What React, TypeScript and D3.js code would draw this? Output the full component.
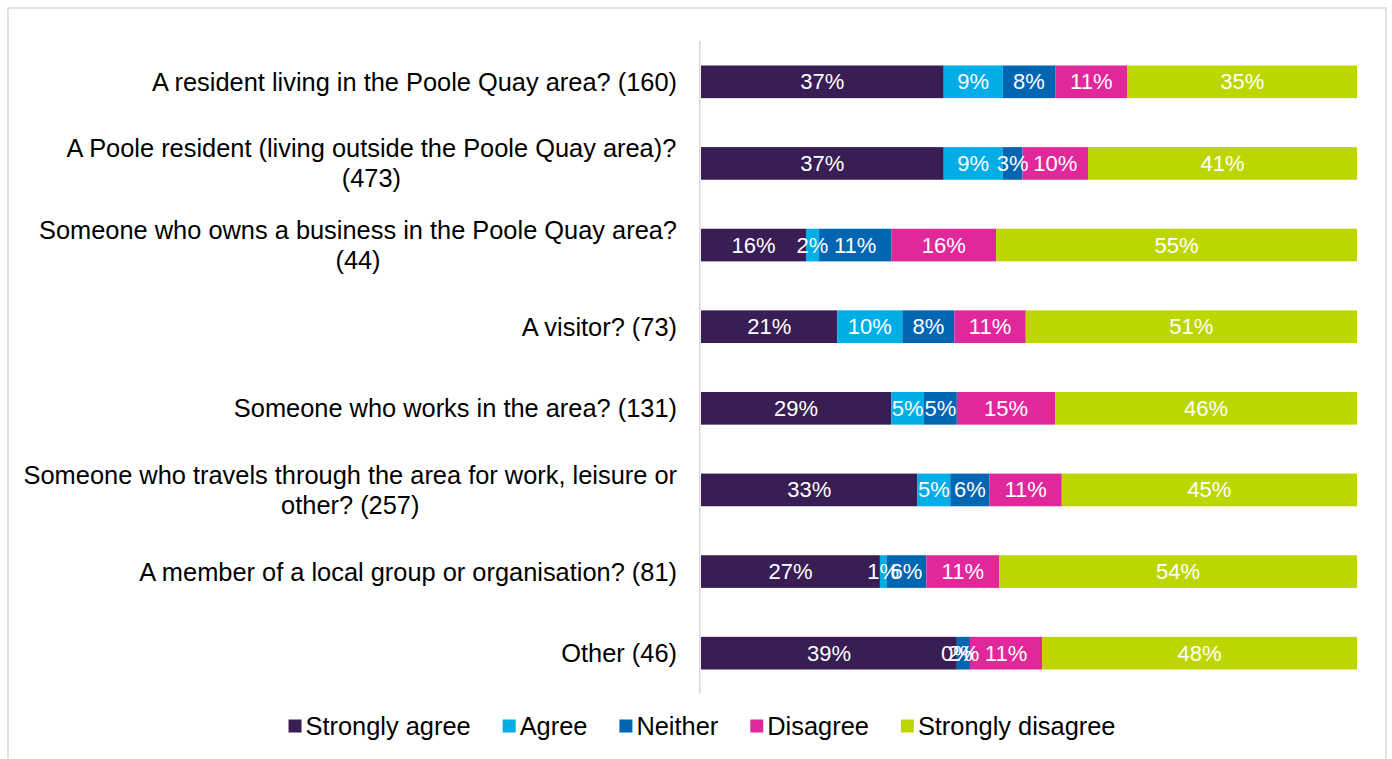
import React from "react";
import * as d3 from "d3";

const categories = [
  "A resident living in the Poole Quay area? (160)",
  "A Poole resident (living outside the Poole Quay area)? (473)",
  "Someone who owns a business in the Poole Quay area? (44)",
  "A visitor? (73)",
  "Someone who works in the area? (131)",
  "Someone who travels through the area for work, leisure or other? (257)",
  "A member of a local group or organisation? (81)",
  "Other (46)",
];
const seriesNames = ["Strongly agree", "Agree", "Neither", "Disagree", "Strongly disagree"];
const strongAgree = [37, 37, 16, 21, 29, 33, 27, 39];
const agree = [9, 9, 2, 10, 5, 5, 1, 0];
const neither = [8, 3, 11, 8, 5, 6, 6, 2];
const disagree = [11, 10, 16, 11, 15, 11, 11, 11];
const strongDisagree = [35, 41, 55, 51, 46, 45, 54, 48];
const colors = ["#381e54", "#00ade6", "#0066b2", "#e0289b", "#bed600"];

const W = 1392;
const H = 759;
const FONT = '"Liberation Sans", Arial, sans-serif';
const FS = 25.4;
const DFS = 22;

let ctx: CanvasRenderingContext2D | null = null;
function measure(t: string, size = FS) {
  if (!ctx) ctx = document.createElement("canvas").getContext("2d");
  ctx!.font = `${size}px ${FONT}`;
  return ctx!.measureText(t).width;
}
function wrap(t: string, maxW: number) {
  const words = t.split(" ");
  const lines: string[] = [];
  let cur = "";
  for (const w of words) {
    const test = cur ? cur + " " + w : w;
    if (measure(test) > maxW && cur) {
      lines.push(cur);
      cur = w;
    } else cur = test;
  }
  if (cur) lines.push(cur);
  return lines;
}

export default function App() {
  const series = [strongAgree, agree, neither, disagree, strongDisagree];
  const rows = categories.map((c, i) => {
    const vals = series.map((s) => s[i]);
    const total = d3.sum(vals);
    let acc = 0;
    const segs = vals.map((v, k) => {
      const s = { k, v, x0: acc / total, x1: (acc + v) / total };
      acc += v;
      return s;
    });
    return { c, segs };
  });

  const x = d3.scaleLinear().domain([0, 1]).range([701, 1357]);
  const y = d3.scaleBand<string>().domain(categories).range([41, 694]).paddingInner(0.6).paddingOuter(0.3);

  const labelRight = 677;
  const lineH = 30;

  // legend layout
  const sq = 13;
  const gapSqText = 4;
  const gapItems = 32;
  const widths = seriesNames.map((n) => sq + gapSqText + measure(n));
  const totalW = d3.sum(widths) + gapItems * (seriesNames.length - 1);
  let lx = 702 - totalW / 2;
  const legendItems = seriesNames.map((n, i) => {
    const item = { n, i, x: lx };
    lx += widths[i] + gapItems;
    return item;
  });
  const legendY = 726;

  return (
    <svg
      width={W}
      height={H}
      style={{ position: "absolute", left: 0, top: 0, background: "#fff" }}
      fontFamily={FONT}
    >
      <rect x={8} y={8} width={1378} height={800} fill="#fff" stroke="#d9d9d9" strokeWidth={1.5} />
      {rows.map((r) => {
        const yc = y(r.c)! + y.bandwidth() / 2;
        const lines = wrap(r.c, 662);
        const bw = d3.max(lines, (l) => measure(l))!;
        const cx = labelRight - bw / 2;
        const startY = yc - ((lines.length - 1) * lineH) / 2;
        return (
          <g key={r.c}>
            {lines.map((l, j) => (
              <text
                key={j}
                x={lines.length > 1 ? cx : labelRight}
                y={startY + j * lineH}
                textAnchor={lines.length > 1 ? "middle" : "end"}
                dominantBaseline="central"
                fontSize={FS}
                fill="#000"
              >
                {l}
              </text>
            ))}
            {r.segs.map((s) => (
              <rect
                key={s.k}
                x={x(s.x0)}
                y={y(r.c)!}
                width={x(s.x1) - x(s.x0)}
                height={y.bandwidth()}
                fill={colors[s.k]}
              />
            ))}
            {r.segs.map((s) => (
              <text
                key={"t" + s.k}
                x={(x(s.x0) + x(s.x1)) / 2}
                y={yc}
                textAnchor="middle"
                dominantBaseline="central"
                fontSize={DFS}
                fill="#fff"
              >
                {s.v}%
              </text>
            ))}
          </g>
        );
      })}
      <line x1={699.75} x2={699.75} y1={41} y2={694} stroke="#d9d9d9" strokeWidth={1.5} />
      {legendItems.map((it) => (
        <g key={it.n}>
          <rect x={it.x} y={legendY - sq / 2} width={sq} height={sq} fill={colors[it.i]} />
          <text
            x={it.x + sq + gapSqText}
            y={legendY}
            dominantBaseline="central"
            fontSize={FS}
            fill="#000"
          >
            {it.n}
          </text>
        </g>
      ))}
    </svg>
  );
}
